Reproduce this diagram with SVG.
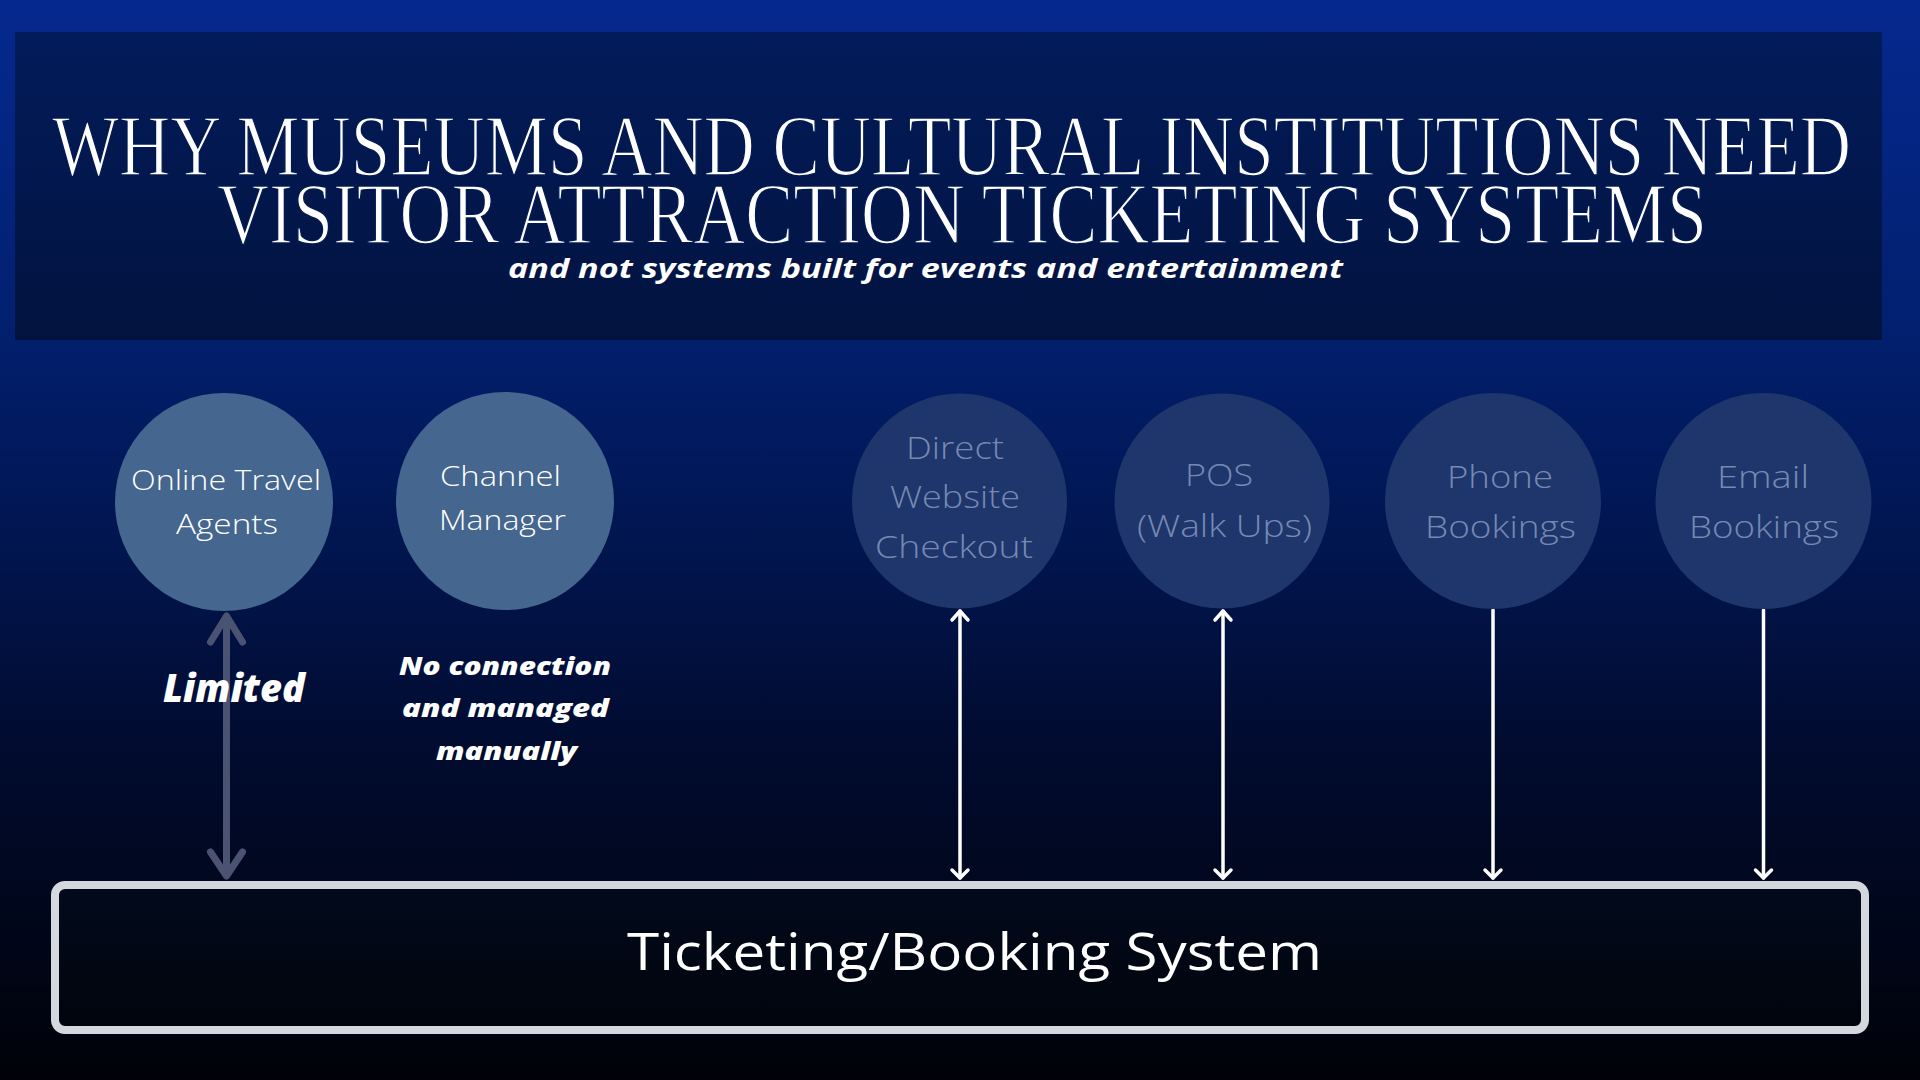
<svg xmlns="http://www.w3.org/2000/svg" width="1920" height="1080" viewBox="0 0 1920 1080">
<defs>
<linearGradient id="bg" x1="0" y1="0" x2="0" y2="1">
<stop offset="0" stop-color="#05288f"/>
<stop offset="0.3" stop-color="#02206f"/>
<stop offset="0.45" stop-color="#011858"/>
<stop offset="0.7" stop-color="#010b2e"/>
<stop offset="1" stop-color="#000208"/>
</linearGradient>
<linearGradient id="panel" x1="0" y1="0" x2="0" y2="1">
<stop offset="0" stop-color="#021b5a"/>
<stop offset="1" stop-color="#02133f"/>
</linearGradient>
<linearGradient id="box" x1="0" y1="0" x2="0" y2="1">
<stop offset="0" stop-color="#020a1c"/>
<stop offset="1" stop-color="#01040c"/>
</linearGradient>
<style>
.title{font-family:"Liberation Serif","Times New Roman",serif;font-size:86px;fill:#ffffff;stroke:#021a52;stroke-width:1.6px;}
.sub{font-family:"Open Sans","Liberation Sans",sans-serif;font-weight:700;font-style:italic;font-size:27px;fill:#ffffff;}
.c-front{fill:#44668f;}
.c-back{fill:#1e366b;}
.lbl{font-family:"Open Sans","Liberation Sans",sans-serif;font-weight:300;fill:#ffffff;font-size:27px;}
.lbl-f{font-family:"Open Sans","Liberation Sans",sans-serif;font-weight:300;fill:#7689b3;font-size:31px;}
.note{font-family:"Open Sans","Liberation Sans",sans-serif;font-weight:800;font-style:italic;fill:#ffffff;}
.w{stroke:#ffffff;stroke-width:3.5;fill:none;stroke-linecap:round;stroke-linejoin:round;}
.g{stroke:#4b5372;stroke-width:7;fill:none;stroke-linecap:round;stroke-linejoin:round;}
.sys{font-family:"Open Sans","Liberation Sans",sans-serif;font-weight:400;font-size:52px;fill:#ffffff;}
</style>
</defs>
<rect x="0" y="0" width="1920" height="1080" fill="url(#bg)"/>
<g id="header">
<rect x="15" y="32" width="1867" height="308" fill="url(#panel)"/>
<text class="title" x="52" y="175" textLength="1799" lengthAdjust="spacingAndGlyphs">WHY MUSEUMS AND CULTURAL INSTITUTIONS NEED</text>
<text class="title" x="217" y="243" textLength="1490" lengthAdjust="spacingAndGlyphs">VISITOR ATTRACTION TICKETING SYSTEMS</text>
<text class="sub" x="508" y="278" textLength="835" lengthAdjust="spacingAndGlyphs">and not systems built for events and entertainment</text>
</g>
<g id="connectors">
<g id="conn-ota">
<line class="g" x1="226.5" y1="617" x2="226.5" y2="875"/>
<polyline class="g" points="210.5,642 226.5,616 242.5,642"/>
<polyline class="g" points="210.5,852 226.5,876 242.5,852"/>
</g>
<g id="conn-direct">
<line class="w" x1="960" y1="611" x2="960" y2="878"/>
<polyline class="w" points="952,620 960,611 968,620"/>
<polyline class="w" points="952,870 960,878 968,870"/>
</g>
<g id="conn-pos">
<line class="w" x1="1223" y1="611" x2="1223" y2="878"/>
<polyline class="w" points="1215,620 1223,611 1231,620"/>
<polyline class="w" points="1215,870 1223,878 1231,870"/>
</g>
<g id="conn-phone">
<line class="w" x1="1493" y1="610" x2="1493" y2="878"/>
<polyline class="w" points="1485,870 1493,878 1501,870"/>
</g>
<g id="conn-email">
<line class="w" x1="1763.5" y1="610" x2="1763.5" y2="878"/>
<polyline class="w" points="1755.5,870 1763.5,878 1771.5,870"/>
</g>
</g>
<g id="node-ota">
<circle class="c-front" cx="224" cy="502" r="109"/>
<text class="lbl" x="131" y="490" textLength="190" lengthAdjust="spacingAndGlyphs">Online Travel</text>
<text class="lbl" x="176" y="534" textLength="102" lengthAdjust="spacingAndGlyphs">Agents</text>
</g>
<g id="node-channel">
<circle class="c-front" cx="505" cy="501" r="109"/>
<text class="lbl" x="440" y="486" textLength="121" lengthAdjust="spacingAndGlyphs">Channel</text>
<text class="lbl" x="439" y="530" textLength="127" lengthAdjust="spacingAndGlyphs">Manager</text>
</g>
<g id="node-direct">
<circle class="c-back" cx="959.5" cy="501" r="107.5"/>
<text class="lbl-f" x="906" y="459" textLength="98" lengthAdjust="spacingAndGlyphs">Direct</text>
<text class="lbl-f" x="890" y="508" textLength="130" lengthAdjust="spacingAndGlyphs">Website</text>
<text class="lbl-f" x="875" y="558" textLength="158" lengthAdjust="spacingAndGlyphs">Checkout</text>
</g>
<g id="node-pos">
<circle class="c-back" cx="1222" cy="501" r="107.5"/>
<text class="lbl-f" x="1185" y="486" textLength="68" lengthAdjust="spacingAndGlyphs">POS</text>
<text class="lbl-f" x="1137" y="537" textLength="175" lengthAdjust="spacingAndGlyphs">(Walk Ups)</text>
</g>
<g id="node-phone">
<circle class="c-back" cx="1493" cy="501" r="108"/>
<text class="lbl-f" x="1447" y="488" textLength="106" lengthAdjust="spacingAndGlyphs">Phone</text>
<text class="lbl-f" x="1425" y="538" textLength="151" lengthAdjust="spacingAndGlyphs">Bookings</text>
</g>
<g id="node-email">
<circle class="c-back" cx="1763.5" cy="501" r="108"/>
<text class="lbl-f" x="1717" y="488" textLength="92" lengthAdjust="spacingAndGlyphs">Email</text>
<text class="lbl-f" x="1689" y="538" textLength="150" lengthAdjust="spacingAndGlyphs">Bookings</text>
</g>
<g id="label-limited">
<text class="note" x="163" y="702" font-size="38" textLength="142" lengthAdjust="spacingAndGlyphs">Limited</text>
</g>
<g id="label-noconn">
<text class="note" x="399" y="675" font-size="25" textLength="212" lengthAdjust="spacingAndGlyphs">No connection</text>
<text class="note" x="402" y="717" font-size="25" textLength="207" lengthAdjust="spacingAndGlyphs">and managed</text>
<text class="note" x="436" y="760" font-size="25" textLength="141" lengthAdjust="spacingAndGlyphs">manually</text>
</g>
<g id="node-system">
<rect x="55" y="885" width="1810" height="145" rx="10" fill="url(#box)" stroke="#d5d7de" stroke-width="8"/>
<text class="sys" x="627" y="970" textLength="695" lengthAdjust="spacingAndGlyphs">Ticketing/Booking System</text>
</g>
</svg>
